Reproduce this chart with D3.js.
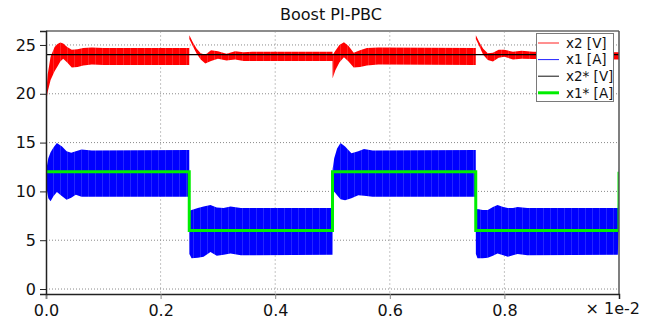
<!DOCTYPE html>
<html>
<head>
<meta charset="utf-8">
<script src="https://cdn.jsdelivr.net/npm/d3@7"></script>
<style>
    body { margin: 0; background: #fff; }
    text { font-family: "DejaVu Sans", sans-serif; fill: #111; }
</style>
</head>
<body>
<div id="plot"></div>
<script>
// x2: capacitor voltage, drawn as a ripple band (upper / lower envelope)
const x2Time = [0, 0.003, 0.008, 0.015, 0.02, 0.025, 0.03, 0.037, 0.045, 0.055, 0.065, 0.08, 0.1, 0.25,
    0.2502, 0.256, 0.263, 0.270, 0.278, 0.288, 0.300, 0.315, 0.330, 0.345, 0.36, 0.5,
    0.5002, 0.505, 0.512, 0.520, 0.528, 0.537, 0.548, 0.56, 0.58, 0.75,
    0.7502, 0.756, 0.763, 0.771, 0.78, 0.79, 0.80, 0.815, 0.83, 0.85, 1.0];
const x2Upper = [19.8, 22.0, 23.8, 24.8, 25.1, 25.25, 25.15, 24.8, 24.5, 24.55, 24.7, 24.75, 24.7, 24.7,
    26.0, 25.3, 24.6, 24.15, 24.0, 24.45, 24.35, 24.1, 24.35, 24.25, 24.3, 24.3,
    24.0, 24.4, 25.0, 25.27, 24.9, 24.2, 24.45, 24.7, 24.75, 24.7,
    26.0, 25.3, 24.6, 24.15, 24.2, 24.5, 24.5, 24.3, 24.4, 24.3, 24.25];
const x2Lower = [19.1, 20.2, 21.4, 22.3, 22.8, 23.3, 23.6, 23.2, 22.7, 22.75, 22.9, 23.0, 22.95, 22.95,
    25.6, 24.9, 24.1, 23.5, 23.1, 23.35, 23.6, 23.4, 23.5, 23.35, 23.35, 23.35,
    21.6, 22.4, 23.2, 23.75, 23.3, 22.7, 22.75, 22.9, 23.0, 22.95,
    25.6, 24.9, 24.0, 23.45, 23.3, 23.7, 23.8, 23.5, 23.6, 23.55, 23.5];

// x1: inductor current, ripple band
const x1Time = [0, 0.001, 0.004, 0.008, 0.013, 0.019, 0.028, 0.036, 0.044, 0.052, 0.062, 0.08, 0.25,
    0.2502, 0.254, 0.265, 0.275, 0.287, 0.298, 0.31, 0.322, 0.34, 0.5,
    0.5002, 0.503, 0.508, 0.514, 0.522, 0.533, 0.545, 0.555, 0.57, 0.75,
    0.7502, 0.753, 0.762, 0.771, 0.78, 0.788, 0.798, 0.806, 0.815, 0.823, 0.84, 0.998, 1.0];
const x1Upper = [0, 12.4, 13.4, 14.0, 14.5, 14.95, 14.6, 14.1, 13.95, 14.1, 14.3, 14.2, 14.25,
    8.0, 8.1, 8.3, 8.45, 8.6, 8.35, 8.3, 8.45, 8.3, 8.3,
    12.3, 13.4, 14.4, 14.95, 14.6, 13.9, 14.1, 14.35, 14.2, 14.25,
    8.0, 8.2, 8.1, 8.1, 8.4, 8.6, 8.4, 8.3, 8.3, 8.4, 8.3, 8.3, 12.5];
const x1Lower = [0, 10.3, 9.3, 9.0, 9.5, 9.95, 9.5, 9.15, 9.35, 9.65, 9.45, 9.45, 9.45,
    3.6, 3.15, 3.2, 3.3, 3.8, 3.4, 3.5, 3.65, 3.45, 3.5,
    8.5, 10.0, 9.6, 9.2, 9.1, 9.3, 9.6, 9.55, 9.45, 9.45,
    3.6, 3.15, 3.15, 3.2, 3.4, 3.65, 3.45, 3.3, 3.45, 3.6, 3.45, 3.5, 8.0];

// references
const x2RefTime = [0, 1.0];
const x2RefValue = [24, 24];
const x1RefTime = [0, 0.25, 0.5, 0.75, 1.0];
const x1RefValue = [12, 6, 12, 6, 12];

const xTicks = [0.0, 0.2, 0.4, 0.6, 0.8];
const yTicks = [0, 5, 10, 15, 20, 25];
const legendLabels = ['x2 [V]', 'x1 [A]', 'x2* [V]', 'x1* [A]'];
const legendColors = ['#ff2020', '#2020ff', '#111111', '#00ee00'];
const legendWidths = [1, 1, 1, 3];

const width = 652, height = 320;
const plot = {left: 46, right: 619, top: 31, bottom: 294};

const svg = d3.select('#plot').append('svg')
    .attr('width', width)
    .attr('height', height);

const x = d3.scaleLinear().domain([0, 1]).range([plot.left, plot.right]);
const y = d3.scaleLinear().domain([-0.51, 26.43]).range([plot.bottom, plot.top]);

const defs = svg.append('defs');
defs.append('clipPath').attr('id', 'clip')
    .append('rect')
    .attr('x', plot.left).attr('y', plot.top)
    .attr('width', plot.right - plot.left).attr('height', plot.bottom - plot.top);

// striped fill to mimic the switching ripple
function stripes(id, base, light)
{
    const p = defs.append('pattern').attr('id', id)
        .attr('patternUnits', 'userSpaceOnUse')
        .attr('width', 7).attr('height', 10);
    p.append('rect').attr('width', 7).attr('height', 10).attr('fill', base);
    p.append('rect').attr('x', 4).attr('width', 1).attr('height', 10).attr('fill', light);
}
stripes('redStripes', '#ff0000', '#ff2626');
stripes('blueStripes', '#0000ff', '#2424ff');

// grid
svg.append('g')
    .selectAll('line')
    .data(xTicks.slice(1))
    .join('line')
    .attr('x1', d => x(d)).attr('x2', d => x(d))
    .attr('y1', plot.top).attr('y2', plot.bottom)
    .attr('stroke', '#c4c4c4')
    .attr('stroke-dasharray', '2,2');

svg.append('g')
    .selectAll('line')
    .data(yTicks)
    .join('line')
    .attr('x1', plot.left).attr('x2', plot.right)
    .attr('y1', d => y(d)).attr('y2', d => y(d))
    .attr('stroke', '#8a8a8a')
    .attr('stroke-dasharray', '1,2');

const data = svg.append('g').attr('clip-path', 'url(#clip)');

function band(times, upper, lower, fill)
{
    const pts = times.map((t, i) => ({t: t, hi: upper[i], lo: lower[i]}));
    data.append('path')
        .datum(pts)
        .attr('fill', fill)
        .attr('stroke', 'none')
        .attr('d', d3.area()
            .x(d => x(d.t))
            .y0(d => y(d.lo))
            .y1(d => y(d.hi)));
}

band(x2Time, x2Upper, x2Lower, 'url(#redStripes)');
band(x1Time, x1Upper, x1Lower, 'url(#blueStripes)');

data.append('path')
    .datum(x2RefTime.map((t, i) => [t, x2RefValue[i]]))
    .attr('fill', 'none')
    .attr('stroke', '#000')
    .attr('stroke-width', 1.2)
    .attr('d', d3.line().x(d => x(d[0])).y(d => y(d[1])));

data.append('path')
    .datum(x1RefTime.map((t, i) => [t, x1RefValue[i]]))
    .attr('fill', 'none')
    .attr('stroke', '#00ee00')
    .attr('stroke-width', 3)
    .attr('d', d3.line().curve(d3.curveStepAfter).x(d => x(d[0])).y(d => y(d[1])));

// frame
svg.append('line')
    .attr('x1', plot.left).attr('x2', plot.right)
    .attr('y1', plot.top).attr('y2', plot.top)
    .attr('stroke', '#8c8c8c').attr('stroke-width', 2);
svg.append('line')
    .attr('x1', plot.right).attr('x2', plot.right)
    .attr('y1', plot.top).attr('y2', plot.bottom)
    .attr('stroke', '#555').attr('stroke-width', 1.5);

// axes
svg.append('g')
    .attr('transform', `translate(0,${plot.bottom})`)
    .call(d3.axisBottom(x).tickValues(xTicks).tickFormat(d3.format('.1f')).tickSize(5).tickPadding(6))
    .call(g => g.select('.domain').attr('stroke', '#222').attr('stroke-width', 1.5))
    .call(g => g.selectAll('.tick line').attr('stroke', '#888'))
    .call(g => g.selectAll('text').attr('font-size', 16).attr('font-family', '"DejaVu Sans", sans-serif').attr('fill', '#111'));

svg.append('g')
    .attr('transform', `translate(${plot.left},0)`)
    .call(d3.axisLeft(y).tickValues(yTicks).tickSize(6).tickPadding(4))
    .call(g => g.select('.domain').attr('stroke', '#222').attr('stroke-width', 1.5))
    .call(g => g.selectAll('.tick line').attr('stroke', '#222'))
    .call(g => g.selectAll('text').attr('font-size', 16).attr('font-family', '"DejaVu Sans", sans-serif').attr('fill', '#111'));

svg.append('text')
    .attr('x', 640).attr('y', 314)
    .attr('text-anchor', 'end')
    .attr('font-size', 16)
    .text('× 1e-2');

svg.append('text')
    .attr('x', 331).attr('y', 20)
    .attr('text-anchor', 'middle')
    .attr('font-size', 16)
    .text('Boost PI-PBC');

// legend
const legend = svg.append('g').attr('transform', 'translate(536,33)');
legend.append('rect')
    .attr('x', 0.5).attr('y', 0.5)
    .attr('width', 77).attr('height', 68)
    .attr('fill', '#fff')
    .attr('stroke', '#7a7a7a');
const rows = legend.selectAll('g.row')
    .data(legendLabels)
    .join('g')
    .attr('class', 'row')
    .attr('transform', (d, i) => `translate(0,${10 + i * 16.6})`);
rows.append('line')
    .attr('x1', 2).attr('x2', 23)
    .attr('stroke', (d, i) => legendColors[i])
    .attr('stroke-width', (d, i) => legendWidths[i]);
rows.append('text')
    .attr('x', 30).attr('dy', '0.35em')
    .attr('font-size', 13.5)
    .text(d => d);
</script>
</body>
</html>
